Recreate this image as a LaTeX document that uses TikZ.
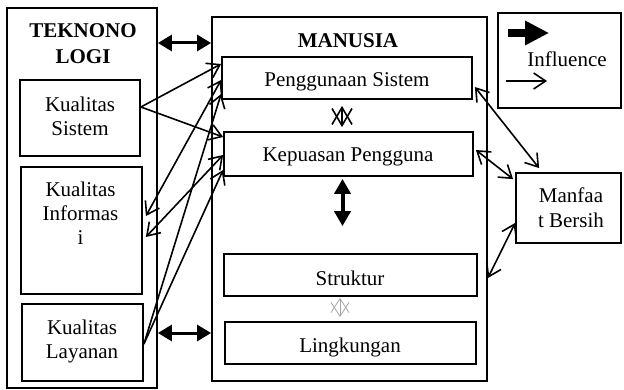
\documentclass[tikz,border=0pt]{standalone}
\usepackage{fontspec}
\setmainfont{Liberation Serif}
\usetikzlibrary{arrows.meta}
\begin{document}
\begin{tikzpicture}[x=1pt,y=-1pt,
  box/.style={draw, line width=1.8pt, inner sep=0pt},
  lbl/.style={inner sep=0pt, anchor=base, font=\fontsize{21}{24}\selectfont},
  blbl/.style={inner sep=0pt, anchor=base, font=\fontsize{21}{24}\selectfont\bfseries},
  >={Straight Barb[length=12pt,width=16pt]},
  lnk/.style={line width=1.6pt},
  thk/.style={line width=3pt, {Triangle[length=14pt,width=16pt]}-{Triangle[length=14pt,width=16pt]}},
  vthk/.style={line width=4pt, {Triangle[length=15pt,width=16pt]}-{Triangle[length=15pt,width=16pt]}},
  sm/.style={line width=1.6pt, {Straight Barb[length=17pt,width=20pt]}-{Straight Barb[length=17pt,width=20pt]}},
  smg/.style={gray!70, line width=0.8pt, {Straight Barb[length=14pt,width=18pt]}-{Straight Barb[length=14pt,width=18pt]}}
]
\useasboundingbox (0,0) rectangle (624,390);
% boxes
\node[box, minimum width=150pt, minimum height=380pt] (tek) at (82,198) {};
\node[box, minimum width=120pt, minimum height=76pt] (ks) at (80,118) {};
\node[box, minimum width=121pt, minimum height=127pt] (ki) at (81.5,230.5) {};
\node[box, minimum width=121pt, minimum height=77pt] (kl) at (82.5,342.5) {};
\node[box, minimum width=275pt, minimum height=364pt] (man) at (349.5,199) {};
\node[box, minimum width=250pt, minimum height=42pt] (pg) at (347,78) {};
\node[box, minimum width=249pt, minimum height=44pt] (kp) at (348.5,154) {};
\node[box, minimum width=253pt, minimum height=42pt] (st) at (350.5,275) {};
\node[box, minimum width=251pt, minimum height=42pt] (lk) at (350.5,343) {};
\node[box, minimum width=123pt, minimum height=95pt] (leg) at (559.5,60.5) {};
\node[box, minimum width=105pt, minimum height=70pt] (mb) at (568.5,208) {};
% texts
\node[blbl] (t1) at (83,38) {TEKNONO};
\node[blbl] (t2) at (83,64) {LOGI};
\node[lbl] (ks1) at (80,112) {Kualitas};
\node[lbl] (ks2) at (80,136) {Sistem};
\node[lbl] (ki1) at (80.5,197) {Kualitas};
\node[lbl] (ki2) at (80.5,221) {Informas};
\node[lbl] (ki3) at (80.5,245) {i};
\node[lbl] (kl1) at (82,334) {Kualitas};
\node[lbl] (kl2) at (82,358) {Layanan};
\node[blbl] (mt) at (348,48) {MANUSIA};
\node[lbl] (pgt) at (347,87) {Penggunaan Sistem};
\node[lbl] (kpt) at (348,162) {Kepuasan Pengguna};
\node[lbl] (stt) at (350,285) {Struktur};
\node[lbl] (lkt) at (350,352) {Lingkungan};
\node[lbl] (inf) at (567,67) {Influence};
\node[lbl] (mb1) at (571,203) {Manfaa};
\node[lbl] (mb2) at (571,228) {t Bersih};
% left connectors
\draw[lnk,->] ([yshift=11pt]ks.east) -- ([yshift=14pt]pg.west);
\draw[lnk,->] ([yshift=11pt]ks.east) -- ([yshift=17pt]kp.west);
\draw[lnk,<->] ([xshift=3pt,yshift=14.5pt]ki.east) -- ([yshift=-2pt]pg.west);
\draw[lnk,<->] ([xshift=3pt,yshift=-6.5pt]ki.east) -- ([yshift=-1pt]kp.west);
\draw[lnk,->] ([yshift=-1.5pt]kl.east) -- ([yshift=-16pt]pg.west);
\draw[lnk,->] ([yshift=-1.5pt]kl.east) -- ([yshift=-16pt]kp.west);
% right connectors
\draw[lnk,<->] ([xshift=2pt,yshift=-9pt]pg.east) -- ([xshift=24pt,yshift=4pt]mb.north west);
\draw[lnk,<->] ([xshift=2pt,yshift=4pt]kp.east) -- ([xshift=-2pt,yshift=-7pt]mb.north west);
\draw[lnk,<->] ([yshift=-15pt]mb.west) -- ([yshift=-79pt]man.east);
% thick connectors
\draw[thk] ([yshift=155pt]tek.east) -- ([yshift=156pt]man.west);
\draw[thk] ([yshift=-135pt]tek.east) -- ([yshift=-134pt]man.west);
\draw[vthk] ([xshift=-6pt,yshift=-2pt]kp.south) -- ([xshift=-8pt,yshift=27pt]st.north);
\draw[sm] ([xshift=-5pt,yshift=-6pt]pg.south) -- ([xshift=-6.5pt,yshift=4pt]kp.north);
\draw[smg] ([xshift=-10.5pt,yshift=-1pt]st.south) -- ([xshift=-10.5pt,yshift=4pt]lk.north);
% legend
\draw[line width=8pt, -{Triangle[length=24pt,width=23pt]}] ([xshift=11pt,yshift=27.5pt]leg.west) -- ([xshift=52pt,yshift=27.5pt]leg.west);
\draw[lnk,->] ([xshift=9pt,yshift=-20.5pt]leg.west) -- ([xshift=50pt,yshift=-20.5pt]leg.west);
\end{tikzpicture}
\end{document}
